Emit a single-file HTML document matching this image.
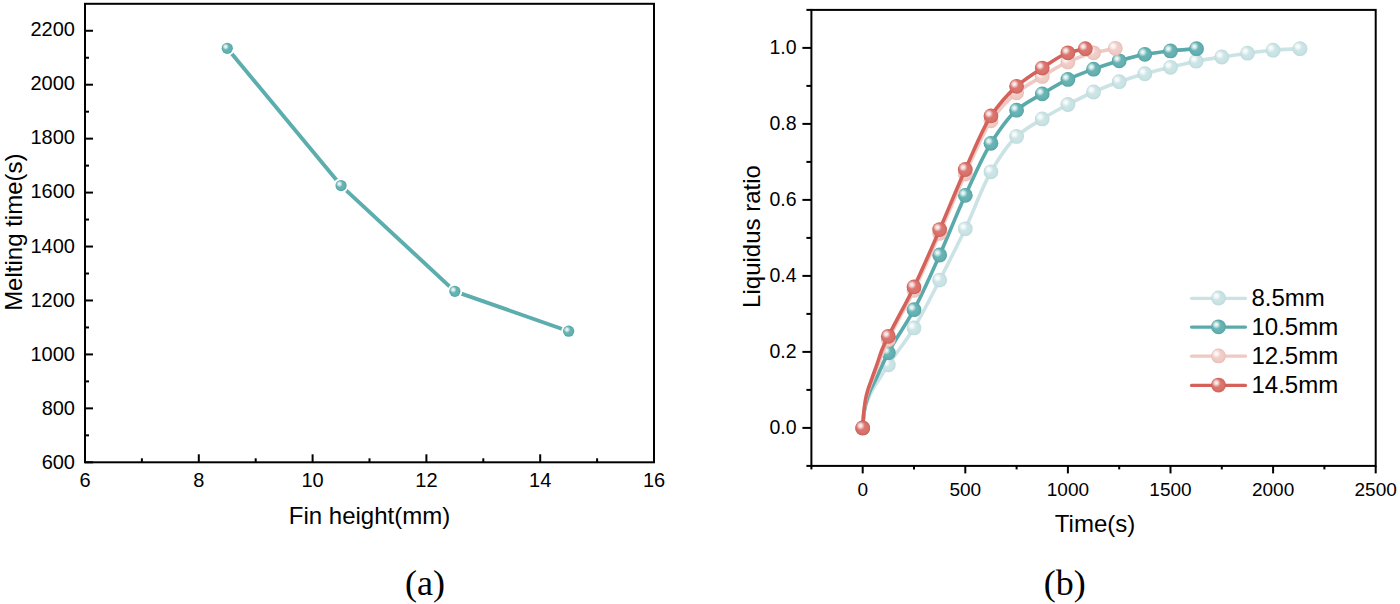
<!DOCTYPE html>
<html><head><meta charset="utf-8"><style>
html,body{margin:0;padding:0;background:#fff;width:1400px;height:604px;overflow:hidden;}
svg{display:block;}
</style></head><body>
<svg width="1400" height="604" viewBox="0 0 1400 604">
<defs>
<radialGradient id="glt" cx="0.5" cy="0.5" r="0.5" fx="0.42" fy="0.42"><stop offset="0" stop-color="#d3e8e9"/><stop offset="0.75" stop-color="#c9e2e4"/><stop offset="1" stop-color="#bcdadc"/></radialGradient>
<radialGradient id="gtl" cx="0.5" cy="0.5" r="0.5" fx="0.42" fy="0.42"><stop offset="0" stop-color="#6fb8b8"/><stop offset="0.75" stop-color="#64b0b1"/><stop offset="1" stop-color="#55a3a5"/></radialGradient>
<radialGradient id="gpk" cx="0.5" cy="0.5" r="0.5" fx="0.42" fy="0.42"><stop offset="0" stop-color="#f3d3ce"/><stop offset="0.75" stop-color="#efcac4"/><stop offset="1" stop-color="#e8bdb6"/></radialGradient>
<radialGradient id="grd" cx="0.5" cy="0.5" r="0.5" fx="0.42" fy="0.42"><stop offset="0" stop-color="#dc7d76"/><stop offset="0.75" stop-color="#d8716a"/><stop offset="1" stop-color="#cc605a"/></radialGradient>
<radialGradient id="glf" cx="0.5" cy="0.5" r="0.5" fx="0.42" fy="0.42"><stop offset="0" stop-color="#70b8b8"/><stop offset="0.75" stop-color="#62b0b0"/><stop offset="1" stop-color="#52a3a4"/></radialGradient>
<radialGradient id="hl" cx="0.5" cy="0.5" r="0.5"><stop offset="0" stop-color="#fff" stop-opacity="0.95"/><stop offset="0.35" stop-color="#fff" stop-opacity="0.75"/><stop offset="1" stop-color="#fff" stop-opacity="0"/></radialGradient>
</defs>
<g stroke="#000" stroke-width="2" fill="none" stroke-linecap="butt">
<rect x="85" y="3.8" width="569" height="458.5"/>
<line x1="85" y1="462.3" x2="85" y2="454.3"/>
<line x1="141.9" y1="462.3" x2="141.9" y2="458.3"/>
<line x1="198.8" y1="462.3" x2="198.8" y2="454.3"/>
<line x1="255.7" y1="462.3" x2="255.7" y2="458.3"/>
<line x1="312.6" y1="462.3" x2="312.6" y2="454.3"/>
<line x1="369.5" y1="462.3" x2="369.5" y2="458.3"/>
<line x1="426.4" y1="462.3" x2="426.4" y2="454.3"/>
<line x1="483.3" y1="462.3" x2="483.3" y2="458.3"/>
<line x1="540.2" y1="462.3" x2="540.2" y2="454.3"/>
<line x1="597.1" y1="462.3" x2="597.1" y2="458.3"/>
<line x1="654" y1="462.3" x2="654" y2="454.3"/>
<line x1="85" y1="462.3" x2="93" y2="462.3"/>
<line x1="85" y1="435.33" x2="89" y2="435.33"/>
<line x1="85" y1="408.36" x2="93" y2="408.36"/>
<line x1="85" y1="381.39" x2="89" y2="381.39"/>
<line x1="85" y1="354.42" x2="93" y2="354.42"/>
<line x1="85" y1="327.45" x2="89" y2="327.45"/>
<line x1="85" y1="300.48" x2="93" y2="300.48"/>
<line x1="85" y1="273.51" x2="89" y2="273.51"/>
<line x1="85" y1="246.54" x2="93" y2="246.54"/>
<line x1="85" y1="219.56" x2="89" y2="219.56"/>
<line x1="85" y1="192.59" x2="93" y2="192.59"/>
<line x1="85" y1="165.62" x2="89" y2="165.62"/>
<line x1="85" y1="138.65" x2="93" y2="138.65"/>
<line x1="85" y1="111.68" x2="89" y2="111.68"/>
<line x1="85" y1="84.71" x2="93" y2="84.71"/>
<line x1="85" y1="57.74" x2="89" y2="57.74"/>
<line x1="85" y1="30.77" x2="93" y2="30.77"/>
</g>
<g font-family="Liberation Sans, sans-serif" font-size="20" fill="#000">
<text x="85" y="487.3" text-anchor="middle">6</text>
<text x="198.8" y="487.3" text-anchor="middle">8</text>
<text x="312.6" y="487.3" text-anchor="middle">10</text>
<text x="426.4" y="487.3" text-anchor="middle">12</text>
<text x="540.2" y="487.3" text-anchor="middle">14</text>
<text x="654" y="487.3" text-anchor="middle">16</text>
<text x="75" y="469.2" text-anchor="end">600</text>
<text x="75" y="415.05" text-anchor="end">800</text>
<text x="75" y="360.9" text-anchor="end">1000</text>
<text x="75" y="306.75" text-anchor="end">1200</text>
<text x="75" y="252.6" text-anchor="end">1400</text>
<text x="75" y="198.45" text-anchor="end">1600</text>
<text x="75" y="144.3" text-anchor="end">1800</text>
<text x="75" y="90.15" text-anchor="end">2000</text>
<text x="75" y="36" text-anchor="end">2200</text>
</g>
<text font-family="Liberation Sans, sans-serif" font-size="24" x="369.5" y="524.3" text-anchor="middle">Fin height(mm)</text>
<text font-family="Liberation Sans, sans-serif" font-size="24" transform="translate(21.5,232.2) rotate(-90)" text-anchor="middle">Melting time(s)</text>
<text font-family="Liberation Serif, serif" font-size="36" x="405" y="595">(a)</text>
<polyline points="227.25,48.3 341.05,185.58 454.85,291.31 568.65,331.22" fill="none" stroke="#5cadad" stroke-width="3.9" stroke-linecap="round" stroke-linejoin="round"/>
<circle cx="227.25" cy="48.3" r="7.5" fill="#fff"/>
<circle cx="227.25" cy="48.3" r="5.6" fill="url(#glf)"/><circle cx="225.57" cy="46.62" r="3.36" fill="url(#hl)"/>
<circle cx="341.05" cy="185.58" r="7.5" fill="#fff"/>
<circle cx="341.05" cy="185.58" r="5.6" fill="url(#glf)"/><circle cx="339.37" cy="183.9" r="3.36" fill="url(#hl)"/>
<circle cx="454.85" cy="291.31" r="7.5" fill="#fff"/>
<circle cx="454.85" cy="291.31" r="5.6" fill="url(#glf)"/><circle cx="453.17" cy="289.63" r="3.36" fill="url(#hl)"/>
<circle cx="568.65" cy="331.22" r="7.5" fill="#fff"/>
<circle cx="568.65" cy="331.22" r="5.6" fill="url(#glf)"/><circle cx="566.97" cy="329.54" r="3.36" fill="url(#hl)"/>
<g stroke="#000" stroke-width="2" fill="none">
<rect x="811.4" y="9.9" width="564.3" height="456"/>
<line x1="811.4" y1="465.9" x2="811.4" y2="469.4"/>
<line x1="862.7" y1="465.9" x2="862.7" y2="473.4"/>
<line x1="914" y1="465.9" x2="914" y2="469.4"/>
<line x1="965.3" y1="465.9" x2="965.3" y2="473.4"/>
<line x1="1016.6" y1="465.9" x2="1016.6" y2="469.4"/>
<line x1="1067.9" y1="465.9" x2="1067.9" y2="473.4"/>
<line x1="1119.2" y1="465.9" x2="1119.2" y2="469.4"/>
<line x1="1170.5" y1="465.9" x2="1170.5" y2="473.4"/>
<line x1="1221.8" y1="465.9" x2="1221.8" y2="469.4"/>
<line x1="1273.1" y1="465.9" x2="1273.1" y2="473.4"/>
<line x1="1324.4" y1="465.9" x2="1324.4" y2="469.4"/>
<line x1="1375.7" y1="465.9" x2="1375.7" y2="473.4"/>
<line x1="811.4" y1="465.9" x2="806.4" y2="465.9"/>
<line x1="811.4" y1="427.9" x2="802.4" y2="427.9"/>
<line x1="811.4" y1="389.9" x2="806.4" y2="389.9"/>
<line x1="811.4" y1="351.9" x2="802.4" y2="351.9"/>
<line x1="811.4" y1="313.9" x2="806.4" y2="313.9"/>
<line x1="811.4" y1="275.9" x2="802.4" y2="275.9"/>
<line x1="811.4" y1="237.9" x2="806.4" y2="237.9"/>
<line x1="811.4" y1="199.9" x2="802.4" y2="199.9"/>
<line x1="811.4" y1="161.9" x2="806.4" y2="161.9"/>
<line x1="811.4" y1="123.9" x2="802.4" y2="123.9"/>
<line x1="811.4" y1="85.9" x2="806.4" y2="85.9"/>
<line x1="811.4" y1="47.9" x2="802.4" y2="47.9"/>
<line x1="811.4" y1="9.9" x2="806.4" y2="9.9"/>
</g>
<g font-family="Liberation Sans, sans-serif" font-size="19" fill="#000">
<text x="862.7" y="495.8" text-anchor="middle">0</text>
<text x="965.3" y="495.8" text-anchor="middle">500</text>
<text x="1067.9" y="495.8" text-anchor="middle">1000</text>
<text x="1170.5" y="495.8" text-anchor="middle">1500</text>
<text x="1273.1" y="495.8" text-anchor="middle">2000</text>
<text x="1375.7" y="495.8" text-anchor="middle">2500</text>
<text x="796.5" y="433.9" text-anchor="end" font-size="19.5">0.0</text>
<text x="796.5" y="357.9" text-anchor="end" font-size="19.5">0.2</text>
<text x="796.5" y="281.9" text-anchor="end" font-size="19.5">0.4</text>
<text x="796.5" y="205.9" text-anchor="end" font-size="19.5">0.6</text>
<text x="796.5" y="129.9" text-anchor="end" font-size="19.5">0.8</text>
<text x="796.5" y="53.9" text-anchor="end" font-size="19.5">1.0</text>
</g>
<text font-family="Liberation Sans, sans-serif" font-size="24" x="1095" y="532.3" text-anchor="middle">Time(s)</text>
<text font-family="Liberation Sans, sans-serif" font-size="24" transform="translate(760,236.5) rotate(-90)" text-anchor="middle">Liquidus ratio</text>
<text font-family="Liberation Serif, serif" font-size="36" x="1043.8" y="595">(b)</text>
<path d="M862.7,427.9 C863.11,423.09 863.52,415.76 863.93,413.46 C865.91,402.32 867.9,399.48 869.88,395.03 C872.89,388.28 875.9,384.56 878.91,379.64 C882.06,374.5 885.2,369.57 888.35,364.82 C896.9,351.9 905.45,341.84 914,327.96 C922.55,314.08 931.1,296.59 939.65,280.08 C948.2,263.57 956.75,246.78 965.3,228.78 C973.85,210.78 982.4,186.32 990.95,171.78 C999.5,157.24 1008.05,144.24 1016.6,136.44 C1025.15,128.64 1033.7,124.23 1042.25,118.96 C1050.8,113.69 1059.35,108.99 1067.9,104.52 C1076.45,100.05 1085,95.74 1093.55,91.98 C1102.1,88.22 1110.65,84.71 1119.2,81.72 C1127.75,78.73 1136.3,76.12 1144.85,73.74 C1153.4,71.36 1161.95,69.37 1170.5,67.28 C1179.05,65.19 1187.6,62.85 1196.15,61.2 C1204.7,59.55 1213.25,58.35 1221.8,57.02 C1230.35,55.69 1238.9,54.35 1247.45,53.22 C1256,52.09 1264.55,50.84 1273.1,50.18 C1282.06,49.49 1291.02,49.17 1299.98,48.66" fill="none" stroke="#cce3e5" stroke-width="3.6" stroke-linecap="round" stroke-linejoin="round"/>
<circle cx="862.7" cy="427.9" r="7.4" fill="url(#glt)"/><circle cx="860.48" cy="425.68" r="4.44" fill="url(#hl)"/>
<circle cx="888.35" cy="364.82" r="7.4" fill="url(#glt)"/><circle cx="886.13" cy="362.6" r="4.44" fill="url(#hl)"/>
<circle cx="914" cy="327.96" r="7.4" fill="url(#glt)"/><circle cx="911.78" cy="325.74" r="4.44" fill="url(#hl)"/>
<circle cx="939.65" cy="280.08" r="7.4" fill="url(#glt)"/><circle cx="937.43" cy="277.86" r="4.44" fill="url(#hl)"/>
<circle cx="965.3" cy="228.78" r="7.4" fill="url(#glt)"/><circle cx="963.08" cy="226.56" r="4.44" fill="url(#hl)"/>
<circle cx="990.95" cy="171.78" r="7.4" fill="url(#glt)"/><circle cx="988.73" cy="169.56" r="4.44" fill="url(#hl)"/>
<circle cx="1016.6" cy="136.44" r="7.4" fill="url(#glt)"/><circle cx="1014.38" cy="134.22" r="4.44" fill="url(#hl)"/>
<circle cx="1042.25" cy="118.96" r="7.4" fill="url(#glt)"/><circle cx="1040.03" cy="116.74" r="4.44" fill="url(#hl)"/>
<circle cx="1067.9" cy="104.52" r="7.4" fill="url(#glt)"/><circle cx="1065.68" cy="102.3" r="4.44" fill="url(#hl)"/>
<circle cx="1093.55" cy="91.98" r="7.4" fill="url(#glt)"/><circle cx="1091.33" cy="89.76" r="4.44" fill="url(#hl)"/>
<circle cx="1119.2" cy="81.72" r="7.4" fill="url(#glt)"/><circle cx="1116.98" cy="79.5" r="4.44" fill="url(#hl)"/>
<circle cx="1144.85" cy="73.74" r="7.4" fill="url(#glt)"/><circle cx="1142.63" cy="71.52" r="4.44" fill="url(#hl)"/>
<circle cx="1170.5" cy="67.28" r="7.4" fill="url(#glt)"/><circle cx="1168.28" cy="65.06" r="4.44" fill="url(#hl)"/>
<circle cx="1196.15" cy="61.2" r="7.4" fill="url(#glt)"/><circle cx="1193.93" cy="58.98" r="4.44" fill="url(#hl)"/>
<circle cx="1221.8" cy="57.02" r="7.4" fill="url(#glt)"/><circle cx="1219.58" cy="54.8" r="4.44" fill="url(#hl)"/>
<circle cx="1247.45" cy="53.22" r="7.4" fill="url(#glt)"/><circle cx="1245.23" cy="51" r="4.44" fill="url(#hl)"/>
<circle cx="1273.1" cy="50.18" r="7.4" fill="url(#glt)"/><circle cx="1270.88" cy="47.96" r="4.44" fill="url(#hl)"/>
<circle cx="1299.98" cy="48.66" r="7.4" fill="url(#glt)"/><circle cx="1297.76" cy="46.44" r="4.44" fill="url(#hl)"/>
<path d="M862.7,427.9 C863.11,422.83 863.52,415.41 863.93,412.7 C865.44,402.78 866.94,399.29 868.45,395.03 C870.91,388.06 873.37,384.51 875.83,379.26 C880.01,370.37 884.18,360.58 888.35,352.66 C896.9,336.43 905.45,325.76 914,309.72 C922.55,293.68 931.1,274.03 939.65,255 C948.2,235.97 956.75,213.87 965.3,195.34 C973.85,176.81 982.4,156.76 990.95,143.28 C999.5,129.8 1008.05,117.51 1016.6,110.22 C1025.15,102.93 1033.7,98.99 1042.25,93.88 C1050.8,88.77 1059.35,83.44 1067.9,79.44 C1076.45,75.44 1085,72.25 1093.55,69.18 C1102.1,66.11 1110.65,63.25 1119.2,60.82 C1127.75,58.39 1136.3,55.85 1144.85,54.36 C1153.4,52.87 1161.95,51.84 1170.5,50.94 C1179.19,50.02 1187.87,49.42 1196.56,48.66" fill="none" stroke="#5aa9ab" stroke-width="3.6" stroke-linecap="round" stroke-linejoin="round"/>
<circle cx="862.7" cy="427.9" r="7.4" fill="url(#gtl)"/><circle cx="860.48" cy="425.68" r="4.44" fill="url(#hl)"/>
<circle cx="888.35" cy="352.66" r="7.4" fill="url(#gtl)"/><circle cx="886.13" cy="350.44" r="4.44" fill="url(#hl)"/>
<circle cx="914" cy="309.72" r="7.4" fill="url(#gtl)"/><circle cx="911.78" cy="307.5" r="4.44" fill="url(#hl)"/>
<circle cx="939.65" cy="255" r="7.4" fill="url(#gtl)"/><circle cx="937.43" cy="252.78" r="4.44" fill="url(#hl)"/>
<circle cx="965.3" cy="195.34" r="7.4" fill="url(#gtl)"/><circle cx="963.08" cy="193.12" r="4.44" fill="url(#hl)"/>
<circle cx="990.95" cy="143.28" r="7.4" fill="url(#gtl)"/><circle cx="988.73" cy="141.06" r="4.44" fill="url(#hl)"/>
<circle cx="1016.6" cy="110.22" r="7.4" fill="url(#gtl)"/><circle cx="1014.38" cy="108" r="4.44" fill="url(#hl)"/>
<circle cx="1042.25" cy="93.88" r="7.4" fill="url(#gtl)"/><circle cx="1040.03" cy="91.66" r="4.44" fill="url(#hl)"/>
<circle cx="1067.9" cy="79.44" r="7.4" fill="url(#gtl)"/><circle cx="1065.68" cy="77.22" r="4.44" fill="url(#hl)"/>
<circle cx="1093.55" cy="69.18" r="7.4" fill="url(#gtl)"/><circle cx="1091.33" cy="66.96" r="4.44" fill="url(#hl)"/>
<circle cx="1119.2" cy="60.82" r="7.4" fill="url(#gtl)"/><circle cx="1116.98" cy="58.6" r="4.44" fill="url(#hl)"/>
<circle cx="1144.85" cy="54.36" r="7.4" fill="url(#gtl)"/><circle cx="1142.63" cy="52.14" r="4.44" fill="url(#hl)"/>
<circle cx="1170.5" cy="50.94" r="7.4" fill="url(#gtl)"/><circle cx="1168.28" cy="48.72" r="4.44" fill="url(#hl)"/>
<circle cx="1196.56" cy="48.66" r="7.4" fill="url(#gtl)"/><circle cx="1194.34" cy="46.44" r="4.44" fill="url(#hl)"/>
<path d="M862.7,427.9 C863.11,422.45 863.52,414.96 863.93,411.56 C864.89,403.63 865.85,399.33 866.8,395.6 C868.58,388.68 870.36,385.2 872.14,380.4 C877.54,365.83 882.95,351.63 888.35,339.74 C896.9,320.93 905.45,307.98 914,290.34 C922.55,272.7 931.1,252.71 939.65,233.34 C948.2,213.97 956.75,192.75 965.3,174.06 C973.85,155.37 982.4,133.12 990.95,120.86 C999.5,108.6 1008.05,99.63 1016.6,92.74 C1025.15,85.85 1033.7,81.51 1042.25,76.4 C1050.8,71.29 1059.35,65.69 1067.9,61.96 C1076.45,58.23 1085,55.08 1093.55,52.84 C1100.8,50.94 1108.05,49.8 1115.3,48.28" fill="none" stroke="#efc9c3" stroke-width="3.6" stroke-linecap="round" stroke-linejoin="round"/>
<circle cx="862.7" cy="427.9" r="7.4" fill="url(#gpk)"/><circle cx="860.48" cy="425.68" r="4.44" fill="url(#hl)"/>
<circle cx="888.35" cy="339.74" r="7.4" fill="url(#gpk)"/><circle cx="886.13" cy="337.52" r="4.44" fill="url(#hl)"/>
<circle cx="914" cy="290.34" r="7.4" fill="url(#gpk)"/><circle cx="911.78" cy="288.12" r="4.44" fill="url(#hl)"/>
<circle cx="939.65" cy="233.34" r="7.4" fill="url(#gpk)"/><circle cx="937.43" cy="231.12" r="4.44" fill="url(#hl)"/>
<circle cx="965.3" cy="174.06" r="7.4" fill="url(#gpk)"/><circle cx="963.08" cy="171.84" r="4.44" fill="url(#hl)"/>
<circle cx="990.95" cy="120.86" r="7.4" fill="url(#gpk)"/><circle cx="988.73" cy="118.64" r="4.44" fill="url(#hl)"/>
<circle cx="1016.6" cy="92.74" r="7.4" fill="url(#gpk)"/><circle cx="1014.38" cy="90.52" r="4.44" fill="url(#hl)"/>
<circle cx="1042.25" cy="76.4" r="7.4" fill="url(#gpk)"/><circle cx="1040.03" cy="74.18" r="4.44" fill="url(#hl)"/>
<circle cx="1067.9" cy="61.96" r="7.4" fill="url(#gpk)"/><circle cx="1065.68" cy="59.74" r="4.44" fill="url(#hl)"/>
<circle cx="1093.55" cy="52.84" r="7.4" fill="url(#gpk)"/><circle cx="1091.33" cy="50.62" r="4.44" fill="url(#hl)"/>
<circle cx="1115.3" cy="48.28" r="7.4" fill="url(#gpk)"/><circle cx="1113.08" cy="46.06" r="4.44" fill="url(#hl)"/>
<path d="M862.7,427.9 C863.11,422.33 863.52,414.87 863.93,411.18 C864.79,403.49 865.64,398.69 866.5,395.03 C868.17,387.86 869.85,384.56 871.52,379.64 C873.37,374.22 875.22,369.32 877.06,364.06 C878.77,359.19 880.48,353.42 882.19,349.24 C884.25,344.23 886.3,340.48 888.35,336.32 C896.9,318.99 905.45,304.62 914,286.92 C922.55,269.22 931.1,249.1 939.65,229.54 C948.2,209.98 956.75,188.38 965.3,169.5 C973.85,150.62 982.4,128.64 990.95,115.92 C999.5,103.2 1008.05,93.81 1016.6,86.28 C1025.15,78.75 1033.7,73.57 1042.25,68.04 C1050.8,62.51 1059.35,55.68 1067.9,52.84 C1073.71,50.91 1079.53,50.05 1085.34,48.66" fill="none" stroke="#d4625a" stroke-width="3.6" stroke-linecap="round" stroke-linejoin="round"/>
<circle cx="862.7" cy="427.9" r="7.4" fill="url(#grd)"/><circle cx="860.48" cy="425.68" r="4.44" fill="url(#hl)"/>
<circle cx="888.35" cy="336.32" r="7.4" fill="url(#grd)"/><circle cx="886.13" cy="334.1" r="4.44" fill="url(#hl)"/>
<circle cx="914" cy="286.92" r="7.4" fill="url(#grd)"/><circle cx="911.78" cy="284.7" r="4.44" fill="url(#hl)"/>
<circle cx="939.65" cy="229.54" r="7.4" fill="url(#grd)"/><circle cx="937.43" cy="227.32" r="4.44" fill="url(#hl)"/>
<circle cx="965.3" cy="169.5" r="7.4" fill="url(#grd)"/><circle cx="963.08" cy="167.28" r="4.44" fill="url(#hl)"/>
<circle cx="990.95" cy="115.92" r="7.4" fill="url(#grd)"/><circle cx="988.73" cy="113.7" r="4.44" fill="url(#hl)"/>
<circle cx="1016.6" cy="86.28" r="7.4" fill="url(#grd)"/><circle cx="1014.38" cy="84.06" r="4.44" fill="url(#hl)"/>
<circle cx="1042.25" cy="68.04" r="7.4" fill="url(#grd)"/><circle cx="1040.03" cy="65.82" r="4.44" fill="url(#hl)"/>
<circle cx="1067.9" cy="52.84" r="7.4" fill="url(#grd)"/><circle cx="1065.68" cy="50.62" r="4.44" fill="url(#hl)"/>
<circle cx="1085.34" cy="48.66" r="7.4" fill="url(#grd)"/><circle cx="1083.12" cy="46.44" r="4.44" fill="url(#hl)"/>
<line x1="1191.5" y1="298.3" x2="1245.5" y2="298.3" stroke="#cce3e5" stroke-width="3.2" stroke-linecap="round"/>
<circle cx="1218.5" cy="298" r="7.4" fill="url(#glt)"/><circle cx="1216.28" cy="295.78" r="4.44" fill="url(#hl)"/>
<text font-family="Liberation Sans, sans-serif" font-size="24" x="1251.5" y="305.8">8.5mm</text>
<line x1="1191.5" y1="327.1" x2="1245.5" y2="327.1" stroke="#5aa9ab" stroke-width="3.2" stroke-linecap="round"/>
<circle cx="1218.5" cy="326.8" r="7.4" fill="url(#gtl)"/><circle cx="1216.28" cy="324.58" r="4.44" fill="url(#hl)"/>
<text font-family="Liberation Sans, sans-serif" font-size="24" x="1251.5" y="334.6">10.5mm</text>
<line x1="1191.5" y1="356.2" x2="1245.5" y2="356.2" stroke="#efc9c3" stroke-width="3.2" stroke-linecap="round"/>
<circle cx="1218.5" cy="355.9" r="7.4" fill="url(#gpk)"/><circle cx="1216.28" cy="353.68" r="4.44" fill="url(#hl)"/>
<text font-family="Liberation Sans, sans-serif" font-size="24" x="1251.5" y="363.7">12.5mm</text>
<line x1="1191.5" y1="385.4" x2="1245.5" y2="385.4" stroke="#d4625a" stroke-width="3.2" stroke-linecap="round"/>
<circle cx="1218.5" cy="385.1" r="7.4" fill="url(#grd)"/><circle cx="1216.28" cy="382.88" r="4.44" fill="url(#hl)"/>
<text font-family="Liberation Sans, sans-serif" font-size="24" x="1251.5" y="392.9">14.5mm</text>
</svg>
</body></html>
